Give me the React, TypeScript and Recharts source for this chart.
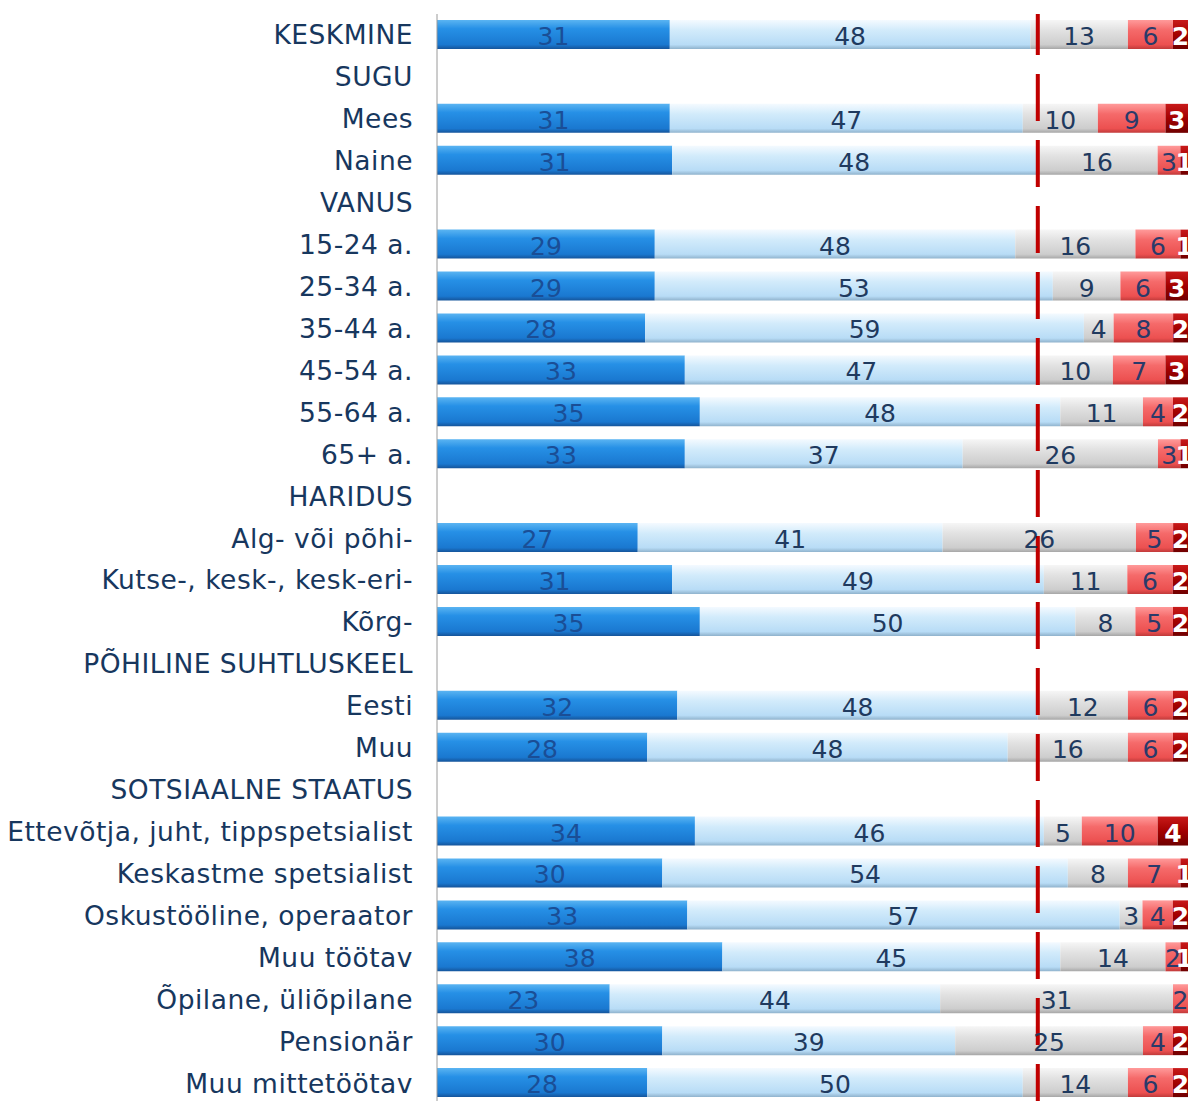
import React from "react";
import { BarChart, Bar, XAxis, YAxis, ReferenceLine, LabelList } from "recharts";

const categories = [
  "KESKMINE", "SUGU", "Mees", "Naine", "VANUS", "15-24 a.", "25-34 a.", "35-44 a.", "45-54 a.", "55-64 a.", "65+ a.",
  "HARIDUS", "Alg- või põhi-", "Kutse-, kesk-, kesk-eri-", "Kõrg-", "PÕHILINE SUHTLUSKEEL", "Eesti", "Muu",
  "SOTSIAALNE STAATUS", "Ettevõtja, juht, tippspetsialist", "Keskastme spetsialist", "Oskustööline, operaator",
  "Muu töötav", "Õpilane, üliõpilane", "Pensionär", "Muu mittetöötav",
];

const s1: (number | null)[] = [31, null, 31, 31, null, 29, 29, 28, 33, 35, 33, null, 27, 31, 35, null, 32, 28, null, 34, 30, 33, 38, 23, 30, 28];
const s2: (number | null)[] = [48, null, 47, 48, null, 48, 53, 59, 47, 48, 37, null, 41, 49, 50, null, 48, 48, null, 46, 54, 57, 45, 44, 39, 50];
const s3: (number | null)[] = [13, null, 10, 16, null, 16, 9, 4, 10, 11, 26, null, 26, 11, 8, null, 12, 16, null, 5, 8, 3, 14, 31, 25, 14];
const s4: (number | null)[] = [6, null, 9, 3, null, 6, 6, 8, 7, 4, 3, null, 5, 6, 5, null, 6, 6, null, 10, 7, 4, 2, 2, 4, 6];
const s5: (number | null)[] = [2, null, 3, 1, null, 1, 3, 2, 3, 2, 1, null, 2, 2, 2, null, 2, 2, null, 4, 1, 2, 1, 0, 2, 2];

// reference share (80%) on the normalised 0..1 axis
const referenceValue = 0.8;

const data = categories.map((name, i) => ({ name, s1: s1[i], s2: s2[i], s3: s3[i], s4: s4[i], s5: s5[i] }));

const FONT = "'DejaVu Sans', Verdana, sans-serif";

const Tick = (props: any) => {
  const { x, y, payload } = props;
  return (
    <text
      x={x - 16}
      y={y}
      textAnchor="end"
      dominantBaseline="central"
      fill="#17375e"
      fontSize={26.5}
      letterSpacing={0.5}
      fontFamily={FONT}
    >
      {payload.value}
    </text>
  );
};

const makeLabel = (color: string, bold: boolean) => (props: any) => {
  const { x, y, width, height, value } = props;
  if (value === null || value === undefined || value === 0 || isNaN(Number(width))) return null;
  return (
    <text
      x={x + width / 2}
      y={y + height / 2 + 2}
      textAnchor="middle"
      dominantBaseline="central"
      fill={color}
      fontSize={25}
      fontWeight={bold ? "bold" : "normal"}
      fontFamily={FONT}
    >
      {value}
    </text>
  );
};

export default function App() {
  return (
    <div style={{ position: "absolute", left: 0, top: 0, background: "#fff" }}>
      <BarChart
        width={1193}
        height={1104}
        data={data}
        layout="vertical"
        stackOffset="expand"
        margin={{ top: 14, right: 5, bottom: 0, left: 0 }}
        barSize={29}
      >
        <defs>
          <linearGradient id="g1" x1="0" y1="0" x2="0" y2="1">
            <stop offset="0%" stopColor="#5ab4f2" />
            <stop offset="30%" stopColor="#2690e6" />
            <stop offset="85%" stopColor="#1a78d0" />
            <stop offset="100%" stopColor="#15549a" />
          </linearGradient>
          <linearGradient id="g2" x1="0" y1="0" x2="0" y2="1">
            <stop offset="0%" stopColor="#f4faff" />
            <stop offset="35%" stopColor="#d2ebfb" />
            <stop offset="85%" stopColor="#b8dcf6" />
            <stop offset="100%" stopColor="#8fb2cc" />
          </linearGradient>
          <linearGradient id="g3" x1="0" y1="0" x2="0" y2="1">
            <stop offset="0%" stopColor="#f6f6f6" />
            <stop offset="35%" stopColor="#e2e2e2" />
            <stop offset="85%" stopColor="#cdcdcd" />
            <stop offset="100%" stopColor="#a6a6a6" />
          </linearGradient>
          <linearGradient id="g4" x1="0" y1="0" x2="0" y2="1">
            <stop offset="0%" stopColor="#ff9a9a" />
            <stop offset="35%" stopColor="#f56a6a" />
            <stop offset="85%" stopColor="#ec5050" />
            <stop offset="100%" stopColor="#c03a3a" />
          </linearGradient>
          <linearGradient id="g5" x1="0" y1="0" x2="0" y2="1">
            <stop offset="0%" stopColor="#c81a1a" />
            <stop offset="50%" stopColor="#a30000" />
            <stop offset="100%" stopColor="#700000" />
          </linearGradient>
        </defs>
        <XAxis type="number" domain={[0, 1]} hide />
        <YAxis
          type="category"
          dataKey="name"
          width={437}
          axisLine={{ stroke: "#9a9a9a", strokeWidth: 1 }}
          tickLine={false}
          tick={<Tick />}
          interval={0}
        />
        <Bar dataKey="s1" stackId="a" fill="url(#g1)" isAnimationActive={false}>
          <LabelList dataKey="s1" content={makeLabel("#1a4e96", false)} />
        </Bar>
        <Bar dataKey="s2" stackId="a" fill="url(#g2)" isAnimationActive={false}>
          <LabelList dataKey="s2" content={makeLabel("#1f3a5f", false)} />
        </Bar>
        <Bar dataKey="s3" stackId="a" fill="url(#g3)" isAnimationActive={false}>
          <LabelList dataKey="s3" content={makeLabel("#1f3a5f", false)} />
        </Bar>
        <Bar dataKey="s4" stackId="a" fill="url(#g4)" isAnimationActive={false}>
          <LabelList dataKey="s4" content={makeLabel("#2a3a6a", false)} />
        </Bar>
        <Bar dataKey="s5" stackId="a" fill="url(#g5)" isAnimationActive={false}>
          <LabelList dataKey="s5" content={makeLabel("#ffffff", true)} />
        </Bar>
        <ReferenceLine
          x={referenceValue}
          stroke="#c00000"
          strokeWidth={4}
          strokeDasharray="47 19"
          strokeDashoffset={7}
          ifOverflow="visible"
        />
      </BarChart>
    </div>
  );
}
